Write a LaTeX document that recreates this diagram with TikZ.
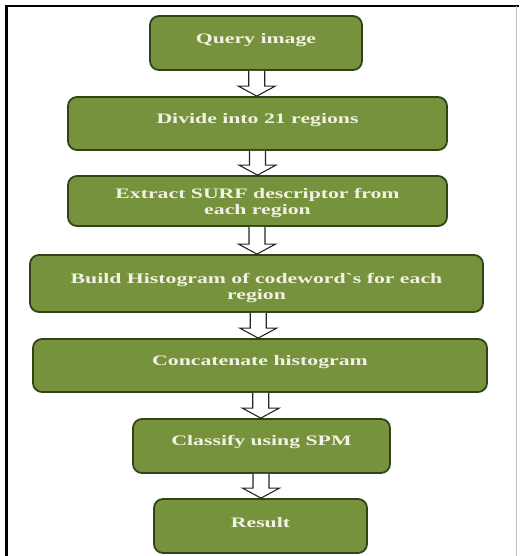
\documentclass[tikz,border=0pt]{standalone}
\usepackage{fontspec}
\newfontfamily\boxfont[FakeStretch=1.5]{Liberation Serif}
\usetikzlibrary{calc}
\definecolor{boxgreen}{HTML}{76923C}
\definecolor{boxedge}{HTML}{34421A}
\definecolor{boxtext}{HTML}{F2F2E4}
\tikzset{
  stepbox/.style={draw=boxedge, line width=1.8pt, fill=boxgreen, rounded corners=9pt,
    inner sep=0pt, anchor=center},
  steptext/.style={text=boxtext, font=\boxfont\bfseries\fontsize{14.5}{16}\selectfont,
    align=center, inner sep=0pt},
  flowarrow/.style={draw=black!85, line width=1.1pt, fill=white, line join=miter}
}
\newcommand{\blockarrow}[2]{%
  \draw[flowarrow] let \p1=(#1.south), \p2=(#2.north), \n1={(\x1+\x2)/2} in
    (\n1-8pt,\y1) -- (\n1-8pt,\y2+10pt) -- (\n1-18.5pt,\y2+10pt) -- (\n1,\y2)
    -- (\n1+18.5pt,\y2+10pt) -- (\n1+8pt,\y2+10pt) -- (\n1+8pt,\y1);}
\begin{document}
\begin{tikzpicture}[x=1pt,y=-1pt]
\useasboundingbox (0,0) rectangle (519,556);
% frame
\draw[line width=2.2pt] (6.5,556) -- (6.5,6) -- (519,6);
\draw[black!25, line width=0.6pt] (516.5,6) -- (516.5,556);
% boxes
\node[stepbox, minimum width=212pt, minimum height=54pt] (q) at (256,43) {};
\node[steptext] (qt) at (256,40) {Query image};
\node[stepbox, minimum width=379pt, minimum height=53pt] (d) at (257.5,123.5) {};
\node[steptext] (dt) at (257.5,120) {Divide into 21 regions};
\node[stepbox, minimum width=379pt, minimum height=50pt] (e) at (257.5,201) {};
\node[steptext] (et) at (257.5,203) {Extract SURF descriptor from\\each region};
\node[stepbox, minimum width=453pt, minimum height=57pt] (b) at (256.5,283.5) {};
\node[steptext] (bt) at (256.5,288) {Build Histogram of codeword`s for each\\region};
\node[stepbox, minimum width=454pt, minimum height=53pt] (c) at (260,365.5) {};
\node[steptext] (ct) at (260,362) {Concatenate histogram};
\node[stepbox, minimum width=257pt, minimum height=54pt] (s) at (261.5,446) {};
\node[steptext] (st) at (261.5,442) {Classify using SPM};
\node[stepbox, minimum width=213pt, minimum height=54pt] (r) at (260.5,526) {};
\node[steptext] (rt) at (260.5,523) {Result};
% arrows
\blockarrow{q}{d}
\blockarrow{d}{e}
\blockarrow{e}{b}
\blockarrow{b}{c}
\blockarrow{c}{s}
\blockarrow{s}{r}
\end{tikzpicture}
\end{document}
